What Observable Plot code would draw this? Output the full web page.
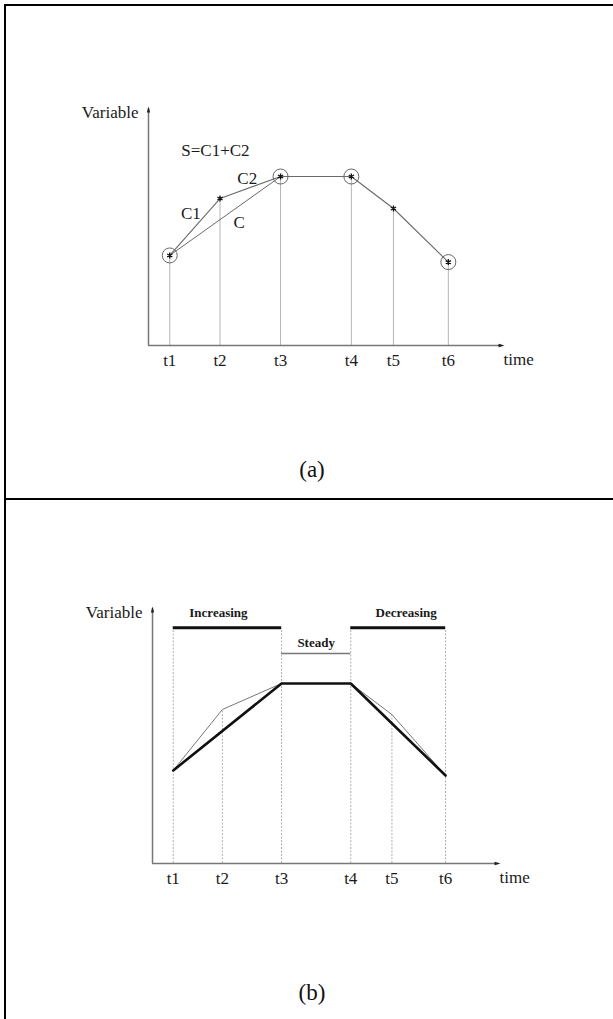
<!DOCTYPE html>
<html><head><meta charset="utf-8">
<script src="https://cdn.jsdelivr.net/npm/d3@7"></script>
<script src="https://cdn.jsdelivr.net/npm/@observablehq/plot@0.6"></script>
<style>
body{margin:0;background:#fff;}
#page{position:relative;width:613px;height:1019px;overflow:hidden;font-family:"Liberation Serif","Times New Roman",serif;background:#fff;}
.panel{position:absolute;left:0;}
.cap{position:absolute;font-size:23px;transform:translate(-50%,-50%);color:#111;white-space:nowrap;}
.rule{position:absolute;background:#000;z-index:5;}
</style></head><body><div id="page"></div>
<script>
// ---- data ----
const tLabels = ["t1", "t2", "t3", "t4", "t5", "t6"];
const tPos = [6, 20.2, 37.3, 57.3, 69.2, 84.7];          // time position (% of axis length)
const varA = [38.0, 62.0, 71.3, 71.3, 57.8, 35.2];       // panel (a) variable values
const circledA = ["t1", "t3", "t4", "t6"];               // retained points in (a)
const varB = [36.5, 60.4, 70.6, 70.6, 58.4, 34.5];       // panel (b) raw series
const keyB = ["t1", "t3", "t4", "t6"];                   // trend breakpoints in (b)
const trendNames = ["Increasing", "Steady", "Decreasing"];
const trendStart = ["t1", "t3", "t4"];
const trendEnd = ["t3", "t4", "t6"];
const trendLevel = [92.5, 82.4, 92.5];
const axisMax = 100;

// ---- derived tables ----
const tAt = Object.fromEntries(tLabels.map((l, i) => [l, tPos[i]]));
const rowsA = tLabels.map((label, i) => ({label, t: tPos[i], v: varA[i]}));
const rowsB = tLabels.map((label, i) => ({label, t: tPos[i], v: varB[i]}));
const trends = trendNames.map((name, i) => ({
  name, start: tAt[trendStart[i]], end: tAt[trendEnd[i]], level: trendLevel[i],
  bold: name !== "Steady"
}));
rowsB.forEach(r => {
  const lv = trends.filter(tr => tr.start === r.t || tr.end === r.t).map(tr => tr.level);
  r.top = lv.length ? Math.max(...lv) : r.v;
});

const arrowRight = {draw(ctx, size) {const r = Math.sqrt(size / Math.PI); ctx.moveTo(r, 0); ctx.lineTo(-r, -r * 0.55); ctx.lineTo(-r, r * 0.55); ctx.closePath();}};
const arrowUp = {draw(ctx, size) {const r = Math.sqrt(size / Math.PI); ctx.moveTo(0, -r); ctx.lineTo(-r * 0.55, r); ctx.lineTo(r * 0.55, r); ctx.closePath();}};

const font = "Liberation Serif";
const ink = "#1a1a1a";
const fs = 17;

function axes(axisColor) {
  return [
    Plot.ruleY([0], {x1: 0, x2: axisMax, stroke: axisColor, strokeWidth: 1.5}),
    Plot.ruleX([0], {y1: 0, y2: axisMax, stroke: axisColor, strokeWidth: 1.5}),
    Plot.dot([axisMax], {x: d => d, y: 0, symbol: arrowRight, r: 3, fill: "#222", dx: -1}),
    Plot.dot([axisMax], {x: 0, y: d => d, symbol: arrowUp, r: 3, fill: "#222", dy: 1}),
    Plot.text(["Variable"], {x: 0, y: axisMax, text: d => d, textAnchor: "end", dx: -10, dy: 4, fontSize: fs, fill: ink, fontFamily: font}),
    Plot.text(["time"], {x: axisMax, y: 0, text: d => d, textAnchor: "start", dx: 1, dy: 14, fontSize: fs, fill: ink, fontFamily: font})
  ];
}

// ---- panel (a) ----
const plotA = Plot.plot({
  width: 613, height: 440,
  marginLeft: 148, marginRight: 111, marginTop: 108, marginBottom: 95,
  x: {domain: [0, axisMax], axis: null},
  y: {domain: [0, axisMax], axis: null},
  style: {background: "transparent", fontFamily: font},
  marks: [
    Plot.ruleX(rowsA, {x: "t", y1: 0, y2: "v", stroke: "#b5b5b5", strokeWidth: 1}),
    ...axes("#777"),
    Plot.line(rowsA.filter(d => d.label === "t1" || d.label === "t3"), {x: "t", y: "v", stroke: "#6a6a6a", strokeWidth: 1}),
    Plot.line(rowsA, {x: "t", y: "v", stroke: "#6a6a6a", strokeWidth: 1.1}),
    Plot.dot(rowsA.filter(d => circledA.includes(d.label)), {x: "t", y: "v", r: 7.5, stroke: "#666", strokeWidth: 1, fill: "none"}),
    Plot.dot(rowsA, {x: "t", y: "v", symbol: "asterisk", r: 2.8, stroke: "#111", strokeWidth: 1.3}),
    Plot.text(rowsA, {x: "t", y: 0, text: "label", dy: 15, fontSize: fs, fill: ink, fontFamily: font}),
    Plot.text(["S=C1+C2"], {x: 18.9, y: 82.3, text: d => d, fontSize: fs, fill: ink, fontFamily: font}),
    Plot.text(["C1"], {x: (tPos[0] + tPos[1]) / 2, y: (varA[0] + varA[1]) / 2, text: d => d, dx: -4, dy: -13, fontSize: fs, fill: ink, fontFamily: font}),
    Plot.text(["C2"], {x: (tPos[1] + tPos[2]) / 2, y: (varA[1] + varA[2]) / 2, text: d => d, dx: -3, dy: -9, fontSize: fs, fill: ink, fontFamily: font}),
    Plot.text(["C"], {x: (tPos[0] + tPos[2]) / 2, y: (varA[0] + varA[2]) / 2, text: d => d, dx: 14, dy: 7, fontSize: fs, fill: ink, fontFamily: font})
  ]
});

// ---- panel (b) ----
const plotB = Plot.plot({
  width: 613, height: 440,
  marginLeft: 152, marginRight: 115, marginTop: 109, marginBottom: 76,
  x: {domain: [0, axisMax], axis: null},
  y: {domain: [0, axisMax], axis: null},
  style: {background: "transparent", fontFamily: font},
  marks: [
    Plot.ruleX(rowsB, {x: "t", y1: 0, y2: "top", stroke: "#b0b0b0", strokeWidth: 1, strokeDasharray: "2,1.5"}),
    ...axes("#777"),
    Plot.line(rowsB, {x: "t", y: "v", stroke: "#777", strokeWidth: 1}),
    Plot.line(rowsB.filter(d => keyB.includes(d.label)), {x: "t", y: "v", stroke: "#111", strokeWidth: 2.6}),
    Plot.ruleY(trends.filter(d => d.bold), {y: "level", x1: "start", x2: "end", stroke: "#111", strokeWidth: 3}),
    Plot.ruleY(trends.filter(d => !d.bold), {y: "level", x1: "start", x2: "end", stroke: "#777", strokeWidth: 1.5}),
    Plot.text(trends.filter(d => d.name === "Increasing"), {x: d => (d.start + d.end) / 2, y: "level", text: "name", dx: -9, dy: -15, fontSize: 13, fontWeight: "bold", fill: ink, fontFamily: font}),
    Plot.text(trends.filter(d => d.name === "Decreasing"), {x: d => (d.start + d.end) / 2, y: "level", text: "name", dx: 8, dy: -15, fontSize: 13, fontWeight: "bold", fill: ink, fontFamily: font}),
    Plot.text(trends.filter(d => d.name === "Steady"), {x: d => (d.start + d.end) / 2, y: "level", text: "name", dy: -11, fontSize: 13, fontWeight: "bold", fill: ink, fontFamily: font}),
    Plot.text(rowsB, {x: "t", y: 0, text: "label", dy: 15, fontSize: fs, fill: ink, fontFamily: font})
  ]
});

const page = document.getElementById("page");
plotA.classList.add("panel"); plotA.style.top = "0px";
plotB.classList.add("panel"); plotB.style.top = "499px";
page.appendChild(plotA);
page.appendChild(plotB);

function addCap(text, x, y) {
  const d = document.createElement("div");
  d.className = "cap"; d.textContent = text;
  d.style.left = x + "px"; d.style.top = y + "px";
  page.appendChild(d);
}
addCap("(a)", 312, 470);
addCap("(b)", 312, 993);

function addRule(l, t, w, h) {
  const d = document.createElement("div");
  d.className = "rule";
  Object.assign(d.style, {left: l + "px", top: t + "px", width: w + "px", height: h + "px"});
  page.appendChild(d);
}
addRule(4, 4, 609, 2);
addRule(4, 4, 2, 1015);
addRule(4, 498, 609, 2);
</script>
</body></html>
